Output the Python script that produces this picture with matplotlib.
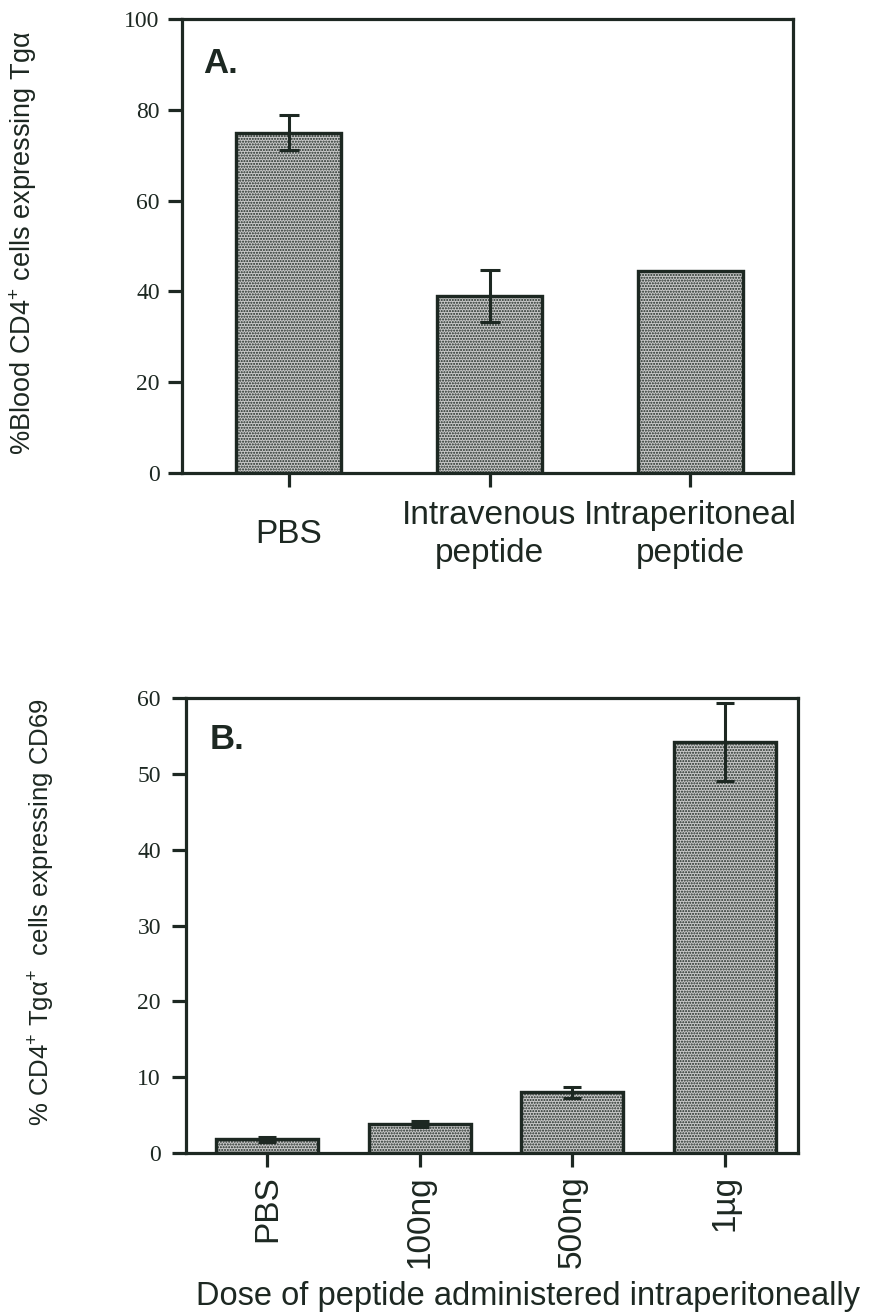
import numpy as np
import matplotlib.pyplot as plt

# Panel A: blood CD4+ cells expressing Tg alpha
groups_a = ["PBS", "Intravenous\npeptide", "Intraperitoneal\npeptide"]
pct_a = [75.0, 39.0, 44.5]
err_a = [3.8, 5.7, 0.0]

# Panel B: CD69 on CD4+ Tg alpha+ cells by peptide dose
doses_b = ["PBS", "100ng", "500ng", "1\u00b5g"]
pct_b = [1.8, 3.8, 8.0, 54.2]
err_b = [0.3, 0.4, 0.7, 5.2]

ink = "#1d2822"
fill = "#c9c9c9"
sans = ["Liberation Sans", "DejaVu Sans"]
serif = ["Liberation Serif", "DejaVu Serif"]

plt.rcParams["mathtext.fontset"] = "custom"
plt.rcParams["mathtext.rm"] = "Liberation Sans"
plt.rcParams["mathtext.it"] = "Liberation Sans:italic"
plt.rcParams["hatch.color"] = "#5a5a5a"
plt.rcParams["hatch.linewidth"] = 1.0

W, H = 870, 1316
fig = plt.figure(figsize=(W / 100, H / 100), dpi=100)


def frame(ax):
    for s in ax.spines.values():
        s.set_linewidth(2.3)
        s.set_color(ink)
    ax.tick_params(axis="both", direction="out", length=10, width=2.3, color=ink)
    for lab in ax.get_yticklabels():
        lab.set_fontfamily(serif)
        lab.set_fontsize(17)
        lab.set_color(ink)


def stipple_bars(ax, x, y, w):
    bars = ax.bar(x, y, width=w, color=fill, edgecolor=ink, linewidth=2.3,
                  hatch="......", zorder=2)
    # redraw the outline over the hatch in the dark ink colour
    ax.bar(x, y, width=w, facecolor="none", edgecolor=ink, linewidth=2.3, zorder=2.5)
    return bars


# ---- A ----
axA = fig.add_axes([182 / W, 1 - 473 / H, (793 - 182) / W, (473 - 19) / H])
xa = np.arange(len(groups_a))
stipple_bars(axA, xa, pct_a, 0.52)
has_err = [i for i, e in enumerate(err_a) if e > 0]
axA.errorbar(xa[has_err], np.array(pct_a)[has_err], yerr=np.array(err_a)[has_err],
             fmt="none", ecolor=ink, elinewidth=2.2, capsize=7, capthick=2.2, zorder=3)
axA.set_xlim(-0.53, 2.51)
axA.set_ylim(0, 100)
axA.set_yticks(range(0, 101, 20))
axA.set_xticks(xa)
axA.set_xticklabels(groups_a, fontfamily=sans, fontsize=24, color=ink, va="center",
                    linespacing=1.3)
frame(axA)
axA.tick_params(axis="x", pad=34)
axA.tick_params(axis="y", pad=6)
axA.text(0.034, 0.903, "A.", transform=axA.transAxes, fontfamily=sans, fontsize=25,
         fontweight="bold", color=ink, va="center")
fig.text(23 / W, 1 - 243 / H, "%Blood CD4$^{+}$ cells expressing Tg\u03b1",
         rotation=90, ha="center", va="center", fontfamily=sans, fontsize=19.5, color=ink)

# ---- B ----
axB = fig.add_axes([186 / W, 1 - 1153 / H, (798 - 186) / W, (1153 - 698) / H])
xb = np.arange(len(doses_b))
stipple_bars(axB, xb, pct_b, 0.67)
axB.errorbar(xb, pct_b, yerr=err_b, fmt="none", ecolor=ink, elinewidth=2.2,
             capsize=6.5, capthick=2.2, zorder=3)
axB.set_xlim(-0.533, 3.48)
axB.set_ylim(0, 60)
axB.set_yticks(range(0, 61, 10))
axB.set_xticks(xb)
axB.set_xticklabels(doses_b, rotation=90, fontfamily=sans, fontsize=24, color=ink)
frame(axB)
axB.tick_params(axis="x", pad=6)
axB.tick_params(axis="y", pad=8)
axB.text(0.039, 0.908, "B.", transform=axB.transAxes, fontfamily=sans, fontsize=25,
         fontweight="bold", color=ink, va="center")
fig.text(42 / W, 1 - 912 / H,
         "% CD4$^{+}$ Tg\u03b1$^{+}$  cells expressing CD69",
         rotation=90, ha="center", va="center", fontfamily=sans, fontsize=18.5, color=ink)
fig.text(528 / W, 1 - 1296 / H, "Dose of peptide administered intraperitoneally",
         ha="center", va="center", fontfamily=sans, fontsize=23.5, color=ink)

fig.savefig("out.png", dpi=100, facecolor="white")
